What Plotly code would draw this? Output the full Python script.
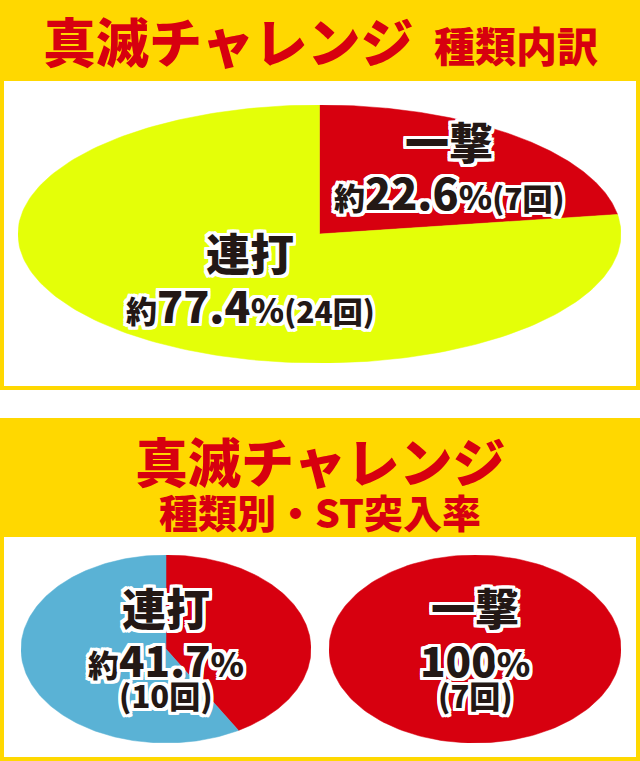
import numpy as np
import plotly.graph_objects as go

# 真滅チャレンジ 種類内訳 (回数)
kinds = ["一撃", "連打"]
kind_counts = [7, 24]
kind_colors = ["#D7000F", "#E4FF08"]

# 種類別・ST突入率 (突入 / 非突入)
st_kinds = ["連打", "一撃"]
st_in = [10, 7]
st_total = [24, 7]
st_colors = ["#D7000F", "#5AB2D5"]

title_top = "真滅チャレンジ"
sub_top = "種類内訳"
title_bottom = "真滅チャレンジ"
sub_bottom = "種類別・ST突入率"

W, H = 640, 761
YELLOW = "#FFD800"
RED = "#D7000F"
INK = "#231815"
FONT = "Noto Sans CJK JP"
OUTLINE = ", ".join(f"{dx}px {dy}px 0 #fff" for dx in (-3, -2, 0, 2, 3)
                    for dy in (-3, -2, 0, 2, 3) if dx or dy)


def px(x0, x1):
    return [x0 / W, x1 / W]


def py(y0, y1):
    # pixel rows from top -> paper domain
    return [1 - y1 / H, 1 - y0 / H]


def slice_xy(start, frac, n=200):
    # clockwise from 12 o'clock, unit circle stretched by the axis domain
    a0 = np.pi / 2 - 2 * np.pi * start
    a1 = np.pi / 2 - 2 * np.pi * (start + frac)
    t = np.linspace(a0, a1, n)
    x = np.cos(t)
    y = np.sin(t)
    if frac < 1:
        x = np.concatenate([[0], x, [0]])
        y = np.concatenate([[0], y, [0]])
    return x, y


def add_pie(fig, values, colors, xa, ya):
    total = sum(values)
    start = 0
    for v, c in zip(values, colors):
        if v <= 0:
            continue
        x, y = slice_xy(start / total, v / total)
        fig.add_trace(go.Scatter(x=x, y=y, fill="toself", fillcolor=c,
                                 mode="lines", line=dict(width=0.5, color=c),
                                 hoverinfo="skip", showlegend=False,
                                 xaxis=xa, yaxis=ya))
        start += v


def fmt_pct(p):
    s = f"{p:.1f}"
    if s.endswith(".0"):
        return s[:-2]
    return s


fig = go.Figure()

# top pie
add_pie(fig, kind_counts, kind_colors, "x", "y")
# bottom pies
for i, (a, t) in enumerate(zip(st_in, st_total)):
    ax = "x%d" % (i + 2)
    ay = "y%d" % (i + 2)
    add_pie(fig, [a, t - a], st_colors, ax, ay)

ax_common = dict(range=[-1, 1], visible=False, fixedrange=True)
fig.update_layout(
    xaxis=dict(domain=px(18, 621), **ax_common),
    yaxis=dict(domain=py(105, 363), anchor="x", **ax_common),
    xaxis2=dict(domain=px(21, 311), anchor="y2", **ax_common),
    yaxis2=dict(domain=py(555, 743), anchor="x2", **ax_common),
    xaxis3=dict(domain=px(329, 621), anchor="y3", **ax_common),
    yaxis3=dict(domain=py(555, 743), anchor="x3", **ax_common),
)

# panels
shapes = [
    dict(type="rect", xref="paper", yref="paper", x0=0, x1=1,
         y0=1 - 390 / H, y1=1, fillcolor=YELLOW, line_width=0, layer="below"),
    dict(type="rect", xref="paper", yref="paper", x0=4 / W, x1=636 / W,
         y0=1 - 386 / H, y1=1 - 81 / H, fillcolor="white", line_width=0, layer="below"),
    dict(type="rect", xref="paper", yref="paper", x0=0, x1=1,
         y0=0, y1=1 - 418 / H, fillcolor=YELLOW, line_width=0, layer="below"),
    dict(type="rect", xref="paper", yref="paper", x0=4 / W, x1=636 / W,
         y0=4 / H, y1=1 - 537 / H, fillcolor="white", line_width=0, layer="below"),
]

ann = []


def label(text, x, y, size, xref="paper", yref="paper"):
    ann.append(dict(text=text, x=x, y=y, xref=xref, yref=yref, showarrow=False,
                    xanchor="center", yanchor="middle",
                    font=dict(family=FONT, size=size, color=INK, weight=900,
                              shadow=OUTLINE)))


def title(text, x, y, size, anchor="center"):
    ann.append(dict(text=text, x=x, y=y, xref="paper", yref="paper", showarrow=False,
                    xanchor=anchor, yanchor="middle",
                    font=dict(family=FONT, size=size, color=RED, weight=900)))


title(title_top, 41 / W, 1 - 40 / H, 53, "left")
title(sub_top, 432 / W, 1 - 44 / H, 41, "left")
title(title_bottom, 0.5, 1 - 460 / H, 53)
title(sub_bottom, 0.5, 1 - 511 / H, 39)

# top pie labels
total = sum(kind_counts)
pos_top = [(0.43, 0.72, 0.33), (-0.23, -0.14, -0.54)]
for k, v, (lx, ly1, ly2) in zip(kinds, kind_counts, pos_top):
    p = fmt_pct(v / total * 100)
    label(k, lx, ly1, 44, "x", "y")
    row = (f"<span style='font-size:31px'>約</span>{p}"
           f"<span style='font-size:34px'>%</span>"
           f"<span style='font-size:30px'>({v}回)</span>")
    label(row, lx, ly2, 43, "x", "y")

# bottom pie labels
for i, (k, a, t) in enumerate(zip(st_kinds, st_in, st_total)):
    ax = "x%d" % (i + 2)
    ay = "y%d" % (i + 2)
    p = a / t * 100
    pre = "約" if abs(p - round(p)) > 1e-9 else ""
    label(k, 0, 0.45, 44, ax, ay)
    row = (f"<span style='font-size:31px'>{pre}</span>{fmt_pct(p)}"
           f"<span style='font-size:34px'>%</span>")
    label(row, 0, -0.1, 42, ax, ay)
    label(f"({a}回)", 0, -0.48, 31, ax, ay)

fig.update_layout(
    width=W, height=H, margin=dict(l=0, r=0, t=0, b=0),
    paper_bgcolor="white", plot_bgcolor="rgba(0,0,0,0)",
    shapes=shapes, annotations=ann,
)

fig.write_html("out.html", config={"displayModeBar": False},
               post_script="document.body.style.margin='0';")
